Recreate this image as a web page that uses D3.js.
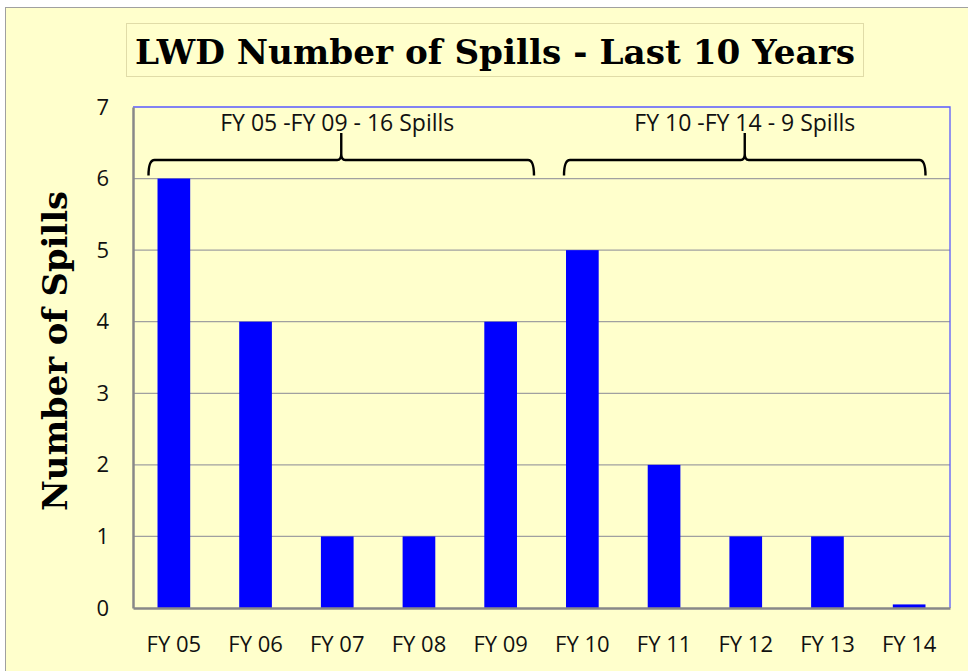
<!DOCTYPE html>
<html lang="en">
<head>
    <meta charset="UTF-8">
    <title>LWD Number of Spills</title>
    <style>
        body { margin: 0; background: #fff; }
        svg { display: block; }
    </style>
</head>
<body>
<div id="chart"></div>
<script src="https://cdn.jsdelivr.net/npm/d3@7/dist/d3.min.js"></script>
<script>
    let years = ['FY 05', 'FY 06', 'FY 07', 'FY 08', 'FY 09', 'FY 10', 'FY 11', 'FY 12', 'FY 13', 'FY 14']
    let spills = [6, 4, 1, 1, 4, 5, 2, 1, 1, 0.05]
    let yTicks = [0, 1, 2, 3, 4, 5, 6, 7]
    let groupFrom = ['FY 05', 'FY 10']
    let groupTo = ['FY 09', 'FY 14']
    let groupLabels = ['FY 05 -FY 09 - 16 Spills', 'FY 10 -FY 14 - 9 Spills']

    let W = 968, H = 671
    let m = {left: 133, right: 18, top: 107, bottom: 63}
    // hand-placed brace overhang (left, right) in px
    let bracePad = [[-9, 17], [-2, 0]]

    let svg = d3.select('#chart').append('svg')
        .attr('width', W)
        .attr('height', H)

    // chart area background
    svg.append('rect')
        .attr('x', 5.5).attr('y', 7.5)
        .attr('width', W).attr('height', H)
        .attr('fill', '#ffffcc')
        .attr('stroke', '#a0a0a0')

    let x = d3.scaleBand()
        .domain(years)
        .range([m.left, W - m.right])
        .paddingInner(0.6)
        .paddingOuter(0.3)

    let y = d3.scaleLinear()
        .domain([0, 7])
        .range([H - m.bottom, m.top])

    // gridlines
    svg.append('g')
        .selectAll('line')
        .data(yTicks.filter(d => d > 0 && d < 7))
        .enter()
        .append('line')
        .attr('x1', m.left).attr('x2', W - m.right)
        .attr('y1', d => y(d)).attr('y2', d => y(d))
        .attr('stroke', '#a0a0a0')
        .attr('stroke-width', 1.2)

    // plot border (top/right blue)
    svg.append('path')
        .attr('d', `M${m.left},${y(7)}H${W - m.right}V${y(0)}`)
        .attr('fill', 'none')
        .attr('stroke', '#5a5aff')
        .attr('stroke-width', 1.3)

    // bars
    svg.append('g')
        .selectAll('rect')
        .data(spills)
        .enter()
        .append('rect')
        .attr('x', (d, i) => x(years[i]))
        .attr('y', d => y(d))
        .attr('width', x.bandwidth())
        .attr('height', d => y(0) - y(d))
        .attr('fill', '#0000ff')

    // axes
    let yAxis = svg.append('g')
        .attr('transform', `translate(${m.left},0)`)
        .call(d3.axisLeft(y).tickValues(yTicks).tickFormat(d3.format('d')).tickSize(0).tickPadding(24))
    yAxis.select('.domain').attr('stroke', '#888').attr('stroke-width', 2.5)

    let xAxis = svg.append('g')
        .attr('transform', `translate(0,${y(0)})`)
        .call(d3.axisBottom(x).tickSize(0).tickPadding(28))
    xAxis.select('.domain').attr('stroke', '#888').attr('stroke-width', 2.5)

    svg.selectAll('.tick text')
        .style('font-family', '"Open Sans", sans-serif')
        .style('font-size', '22px')
        .style('fill', '#111')

    // braces
    let braceY = y(6) - 3, braceTop = 160
    groupLabels.forEach((label, i) => {
        let x0 = x(groupFrom[i]) + bracePad[i][0]
        let x1 = x(groupTo[i]) + x.bandwidth() + bracePad[i][1]
        let cx = (x0 + x1) / 2
        let t = braceTop
        svg.append('path')
            .attr('d', `M${x0},${braceY} Q${x0},${t} ${x0 + 6},${t} H${cx - 4} Q${cx},${t} ${cx},${t - 6} V${t - 27} M${cx},${t - 6} Q${cx},${t} ${cx + 4},${t} H${x1 - 6} Q${x1},${t} ${x1},${braceY}`)
            .attr('fill', 'none')
            .attr('stroke', '#000')
            .attr('stroke-width', 2.4)
        svg.append('text')
            .attr('x', cx - (i === 0 ? 4 : 0))
            .attr('y', 131)
            .attr('text-anchor', 'middle')
            .style('font-family', '"Open Sans", sans-serif')
            .style('font-size', '23px')
            .style('fill', '#111')
            .text(label)
    })

    // title box
    svg.append('rect')
        .attr('x', 126.5).attr('y', 23.5)
        .attr('width', 737).attr('height', 53)
        .attr('fill', '#ffffcc')
        .attr('stroke', '#e0dca8')
    svg.append('text')
        .attr('x', 495)
        .attr('y', 64)
        .attr('text-anchor', 'middle')
        .style('font-family', '"DejaVu Serif", serif')
        .style('font-weight', 'bold')
        .style('font-size', '33px')
        .attr('textLength', 720)
        .attr('lengthAdjust', 'spacingAndGlyphs')
        .text('LWD Number of Spills - Last 10 Years')

    // y label
    svg.append('text')
        .attr('transform', `translate(67, 351) rotate(-90)`)
        .attr('text-anchor', 'middle')
        .style('font-family', '"DejaVu Serif", serif')
        .style('font-weight', 'bold')
        .style('font-size', '33px')
        .attr('textLength', 320)
        .attr('lengthAdjust', 'spacingAndGlyphs')
        .text('Number of Spills')
</script>
</body>
</html>
